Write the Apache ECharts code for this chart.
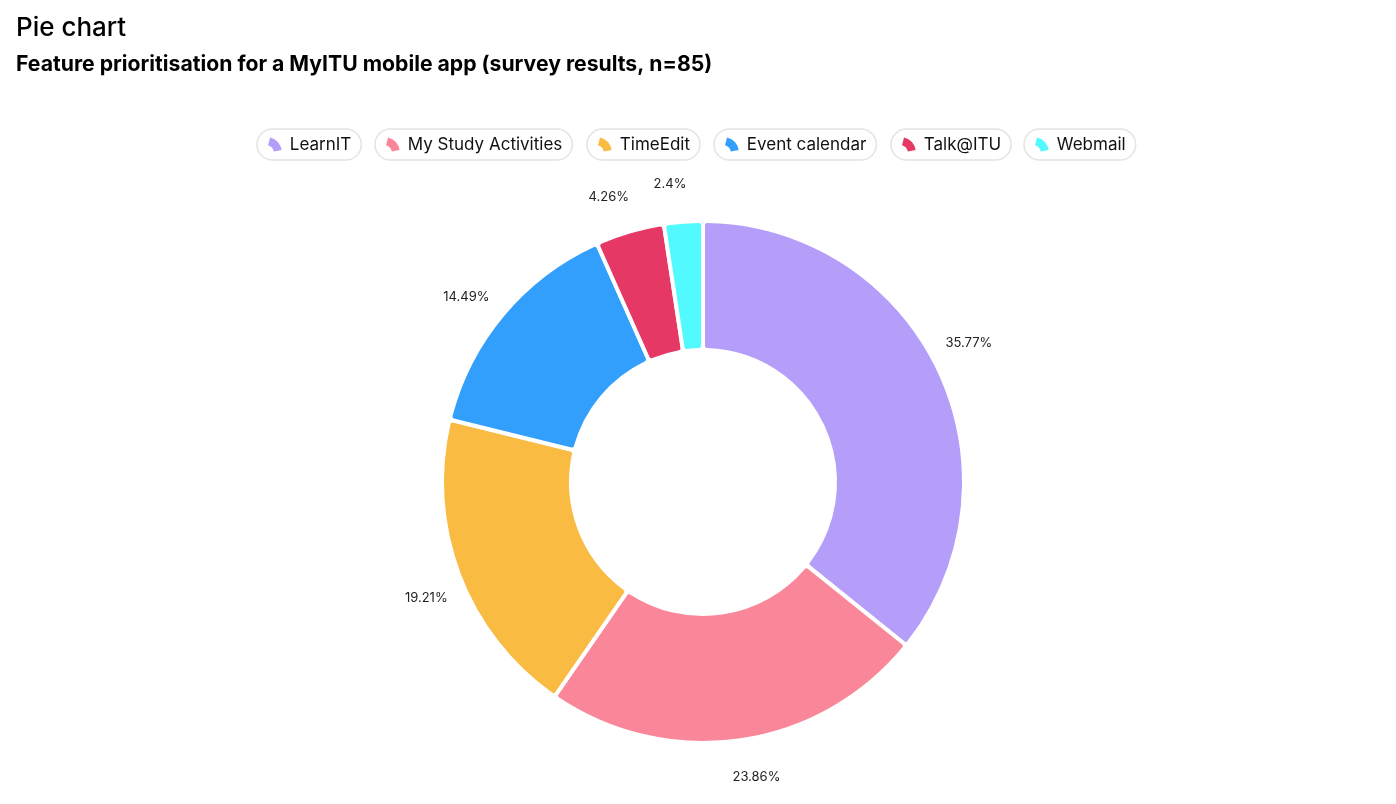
<!DOCTYPE html>
<html>
<head>
<meta charset="utf-8">
<title>Pie chart</title>
<script src="https://cdn.jsdelivr.net/npm/echarts@6/dist/echarts.min.js"></script>
<style>
  html, body { margin: 0; padding: 0; background: #fff; }
  #main { width: 1396px; height: 804px; }
</style>
</head>
<body>
<div id="main"></div>
<script>
var categories = ['LearnIT', 'My Study Activities', 'TimeEdit', 'Event calendar', 'Talk@ITU', 'Webmail'];
var shares = [35.77, 23.86, 19.21, 14.49, 4.26, 2.4];
var colors = ['#b59dfa', '#fa8799', '#f9bb41', '#329ffd', '#e63865', '#52f9fe'];
// left edge of each legend pill
var legendLeft = [257, 375, 587, 714, 891, 1024];

// small ring segment used as the legend marker
var arcIcon = 'path://M3.62,0.48 A14,14 0 0 1 13.79,11.57 L6.89,12.78 A7,7 0 0 0 1.81,7.24 Z';

var pieData = categories.map(function (name, i) {
    return { name: name, value: shares[i] };
});

// one legend per item so each one gets its own pill
var legends = categories.map(function (name, i) {
    return {
        data: [name],
        left: legendLeft[i],
        top: 129,
        icon: arcIcon,
        itemWidth: 14,
        itemHeight: 14,
        itemStyle: { borderWidth: 0 },
        padding: [7, 10, 7, 11],
        borderColor: '#e4e4e4',
        borderWidth: 1.5,
        borderRadius: 16,
        textStyle: {
            fontFamily: 'Inter',
            fontSize: 17,
            color: '#111',
            padding: [0, 0, 0, 3]
        }
    };
});

var myChart = echarts.init(document.getElementById('main'));
myChart.setOption({
    backgroundColor: '#fff',
    color: colors,
    title: [
        {
            text: 'Pie chart',
            left: 16,
            top: 15,
            padding: 0,
            textStyle: { fontFamily: 'Inter', fontSize: 26, fontWeight: 500, color: '#000' }
        },
        {
            text: 'Feature prioritisation for a MyITU mobile app (survey results, n=85)',
            left: 16,
            top: 54,
            padding: 0,
            textStyle: { fontFamily: 'Inter', fontSize: 21.2, fontWeight: 'bold', color: '#000' }
        }
    ],
    tooltip: { trigger: 'item', formatter: '{b}: {c}%' },
    legend: legends,
    series: [
        {
            name: 'Share',
            type: 'pie',
            center: [703, 482],
            radius: [132, 261],
            startAngle: 90,
            itemStyle: {
                borderRadius: 4,
                borderColor: '#fff',
                borderWidth: 4
            },
            label: { show: false },
            labelLine: { show: false },
            data: pieData
        },
        {
            // invisible ring used only to place the centred percentage labels
            name: 'Labels',
            type: 'pie',
            center: [703, 482],
            radius: [290, 304],
            startAngle: 92,
            silent: true,
            tooltip: { show: false },
            emphasis: { disabled: true },
            itemStyle: { color: 'rgba(0,0,0,0)' },
            label: {
                show: true,
                position: 'inside',
                formatter: '{c}%',
                fontFamily: 'Inter',
                fontSize: 13,
                color: '#222'
            },
            labelLine: { show: false },
            data: pieData
        }
    ]
});
</script>
</body>
</html>
